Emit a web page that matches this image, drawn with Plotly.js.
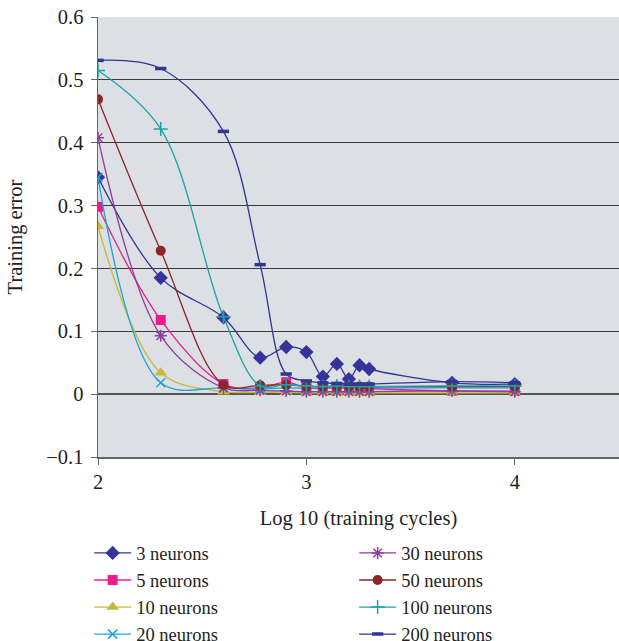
<!DOCTYPE html>
<html><head><meta charset="utf-8">
<script src="https://cdn.plot.ly/plotly-3.0.1.min.js"></script>
<style>html,body{margin:0;padding:0;background:#fff}#chart{width:619px;height:641px}</style>
</head><body><div id="chart"></div>
<script>
const xLog = [2, 2.301, 2.602, 2.778, 2.903, 3, 3.079, 3.146, 3.204, 3.255, 3.301, 3.699, 4];
const names = ["3 neurons","5 neurons","10 neurons","20 neurons","30 neurons","50 neurons","100 neurons","200 neurons"];
const n3   = [0.345, 0.185, 0.122, 0.058, 0.075, 0.067, 0.028, 0.048, 0.024, 0.046, 0.040, 0.018, 0.016];
const n5   = [0.298, 0.118, 0.016, 0.010, 0.019, 0.010, 0.009, 0.010, 0.010, 0.010, 0.009, 0.005, 0.005];
const n10  = [0.267, 0.034, 0.004, 0.003, 0.003, 0.002, 0.002, 0.002, 0.002, 0.002, 0.002, 0.002, 0.002];
const n20  = [0.345, 0.018, 0.010, 0.008, 0.010, 0.009, 0.010, 0.010, 0.010, 0.010, 0.010, 0.010, 0.010];
const n30  = [0.408, 0.093, 0.010, 0.006, 0.005, 0.004, 0.004, 0.004, 0.004, 0.004, 0.004, 0.005, 0.004];
const n50  = [0.469, 0.228, 0.015, 0.014, 0.015, 0.012, 0.012, 0.012, 0.012, 0.012, 0.012, 0.012, 0.012];
const n100 = [0.515, 0.422, 0.123, 0.013, 0.015, 0.013, 0.012, 0.013, 0.012, 0.012, 0.012, 0.013, 0.013];
const n200 = [0.531, 0.518, 0.418, 0.206, 0.032, 0.021, 0.018, 0.017, 0.016, 0.016, 0.016, 0.020, 0.018];
const series = [n3, n5, n10, n20, n30, n50, n100, n200];
const colors = ["#333399","#ec1c8c","#c8b83a","#1ca5d5","#8e3d9c","#8b2626","#1aa2a7","#313596"];
const symbols = ["diamond","square","triangle-up","x-thin-open","asterisk-open","circle","cross-thin-open","line-ew-open"];
const sizes = [11, 10, 11, 9, 10, 10, 10, 8];
const ranks = [1, 3, 5, 7, 2, 4, 6, 8];

const traces = series.map((ys, i) => ({
  x: xLog, y: ys, name: names[i], type: "scatter", mode: "lines+markers",
  line: {color: colors[i], width: 1.3, shape: "spline", smoothing: 1},
  marker: {symbol: symbols[i], size: sizes[i], color: colors[i],
           line: {color: colors[i], width: (i===7 ? 3.5 : (i===3||i===4||i===6) ? 1.5 : 0)}},
  legendrank: ranks[i]
}));

const font = {family: "Liberation Serif, DejaVu Serif, serif", size: 20.5, color: "#231f20"};
const legendFont = {family: "Liberation Serif, DejaVu Serif, serif", size: 18.5, color: "#231f20"};
const layout = {
  width: 619, height: 641,
  margin: {l: 98, r: 0, t: 17, b: 184, autoexpand: false},
  paper_bgcolor: "#ffffff", plot_bgcolor: "#dcdfe3",
  font: font, showlegend: true,
  xaxis: {range: [2, 4.5], dtick: 1, tick0: 2, showgrid: false, zeroline: false,
          showline: true, linecolor: "#666", linewidth: 1.5,
          ticks: "outside", ticklen: 6, tickcolor: "#666",
          title: {text: "Log 10 (training cycles)", font: font, standoff: 18}},
  yaxis: {range: [-0.1, 0.6], dtick: 0.1, tick0: 0, showgrid: true, gridcolor: "#3a3a3a", gridwidth: 1.2,
          zeroline: true, zerolinecolor: "#555", zerolinewidth: 1.5,
          showline: true, linecolor: "#666", linewidth: 1.5,
          ticks: "outside", ticklen: 6, tickcolor: "#666", ticklabelstandoff: 3,
          title: {text: "Training error", font: font, standoff: 18}},
  legend: {orientation: "h", x: -0.017, y: -0.176,
           xanchor: "left", yanchor: "top", entrywidth: 213, entrywidthmode: "pixels",
           font: legendFont, traceorder: "normal", itemwidth: 37, bgcolor: "rgba(0,0,0,0)"}
};
Plotly.newPlot("chart", traces, layout, {displayModeBar: false, staticPlot: true});
</script></body></html>
